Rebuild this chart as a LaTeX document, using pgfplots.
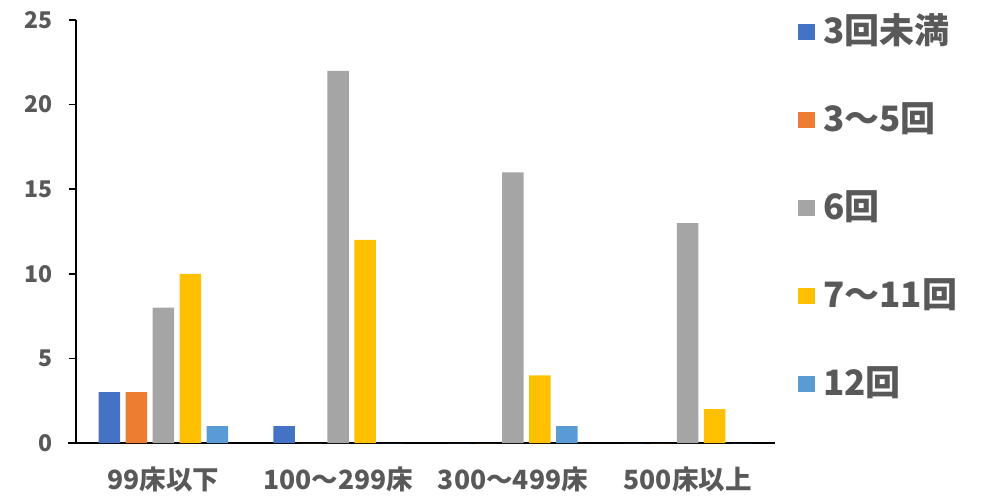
\documentclass[border=0pt]{standalone}
\usepackage{pgfplots}
\pgfplotsset{compat=1.18}
\usepackage{fontspec}
\setmainfont{Noto Sans CJK JP}

\definecolor{s1}{HTML}{4472C4}
\definecolor{s2}{HTML}{ED7D31}
\definecolor{s3}{HTML}{A5A5A5}
\definecolor{s4}{HTML}{FFC000}
\definecolor{s5}{HTML}{5B9BD5}
\definecolor{txt}{HTML}{595959}

\begin{document}
\begin{tikzpicture}
\path[use as bounding box] (0,0) rectangle (984pt,495pt);
\begin{axis}[
  at={(76pt,52pt)}, anchor=south west,
  scale only axis, width=699pt, height=423pt,
  xmin=-0.5, xmax=3.5, ymin=0, ymax=25,
  ybar=5.5pt, bar width=21.5pt,
  xtick={0,1,2,3},
  xticklabels={99床以下,100～299床,300～499床,500床以上},
  ytick={0,5,...,25},
  axis x line*=bottom, axis y line*=left,
  axis line style={-, line width=2pt, black},
  x axis line style={shorten <=-8pt},
  tick align=outside,
  major tick length=7pt,
  y tick style={black, line width=1.5pt},
  x tick style={draw=none},
  /pgf/number format/assume math mode=true,
  yticklabel style={font=\fontsize{23}{27}\selectfont\bfseries, text=txt, xshift=-13pt},
  xticklabel style={font=\fontsize{26.5}{31}\selectfont\bfseries, text=txt, yshift=-13pt},
  legend style={
    at={(1.033,1.016)}, anchor=north west,
    draw=none, fill=none, inner sep=0pt,
    font=\fontsize{35}{41}\selectfont\bfseries, text=txt,
    nodes={inner sep=0pt, text height=30pt, text depth=8pt},
    row sep=50pt, column sep=8pt,
  },
  legend cell align=left,
  legend image code/.code={\fill[#1] (0pt,-8pt) rectangle (17pt,8pt);},
]
\addplot[fill=s1, draw=none] coordinates {(0,3) (1,1) (2,0) (3,0)};
\addplot[fill=s2, draw=none] coordinates {(0,3) (1,0) (2,0) (3,0)};
\addplot[fill=s3, draw=none] coordinates {(0,8) (1,22) (2,16) (3,13)};
\addplot[fill=s4, draw=none] coordinates {(0,10) (1,12) (2,4) (3,2)};
\addplot[fill=s5, draw=none] coordinates {(0,1) (1,0) (2,1) (3,0)};
\legend{3回未満,3～5回,6回,7～11回,12回}
\end{axis}
\end{tikzpicture}
\end{document}
